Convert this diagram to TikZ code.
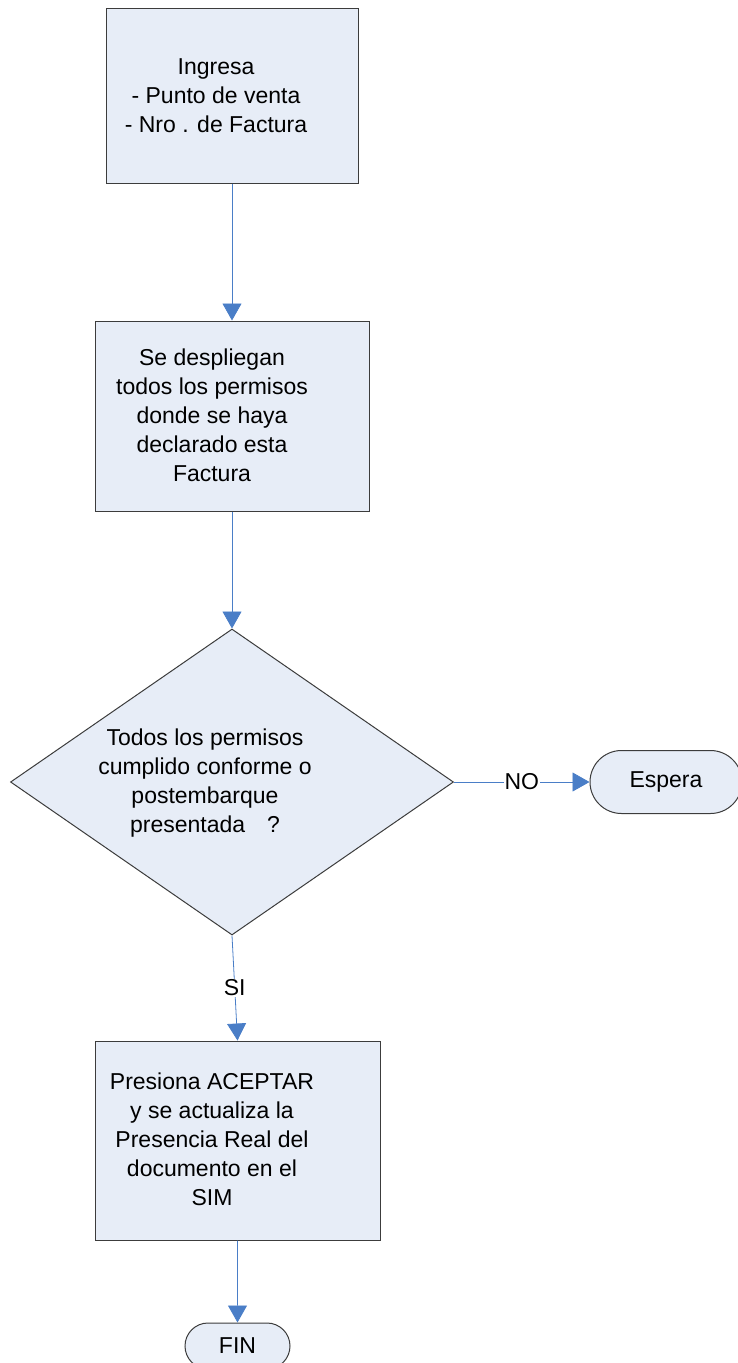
\documentclass[tikz,border=0pt]{standalone}
\usepackage{fontspec}
\setmainfont{Liberation Sans}
\usetikzlibrary{shapes.geometric, shapes.misc, arrows.meta}
\definecolor{cajafondo}{HTML}{E7EDF7}
\definecolor{flecha}{HTML}{4A7EC7}
\definecolor{borde}{HTML}{3C3C3C}

\begin{document}
\begin{tikzpicture}[x=1pt, y=-1pt,
  caja/.style={draw=borde, fill=cajafondo, line width=1pt, inner sep=0pt},
  terminal/.style={caja, rounded rectangle, font=\fontsize{23}{29}\selectfont},
  texto/.style={align=center, inner sep=1pt, font=\fontsize{23}{29}\selectfont},
  flujo/.style={draw=flecha, line width=0.8pt, -{Triangle[width=19pt,length=17pt]}}]
  \useasboundingbox (0,0) rectangle (738,1363);
  % cajas
  \node[caja, minimum width=252pt, minimum height=175pt] (ingresa) at (232,95.5) {};
  \node[caja, minimum width=274pt, minimum height=190pt] (despliegan) at (232,416) {};
  \node[caja, diamond, aspect=1.45, minimum width=443pt, minimum height=306pt] (pregunta) at (232,782) {};
  \node[caja, minimum width=285pt, minimum height=199pt] (presiona) at (237.5,1140.5) {};
  \node[terminal, minimum width=152pt, minimum height=63pt] (espera) at (666,782) {Espera};
  \node[terminal, minimum width=105pt, minimum height=46pt] (fin) at (237.5,1346) {FIN};
  % textos
  \node[texto] (ingresaT) at (216,96) {Ingresa\\- Punto de venta\\- Nro . de Factura};
  \node[texto] (desplieganT) at (212,415) {Se despliegan\\todos los permisos\\donde se haya\\declarado esta\\Factura};
  \node[texto] (preguntaT) at (205,783) {Todos los permisos\\cumplido conforme o\\postembarque\\presentada\hspace{22pt}?};
  \node[texto] (presionaT) at (212,1139) {Presiona ACEPTAR\\y se actualiza la\\Presencia Real del\\documento en el\\SIM};
  % flechas
  \draw[flujo] (ingresa) -- (despliegan);
  \draw[flujo] (despliegan) -- (pregunta);
  \draw[flujo] (pregunta.east) -- node[texto, fill=white] (no) {NO} (espera.west);
  \draw[flujo] (pregunta.south) -- node[texto, fill=white] (si) {SI} (presiona.north);
  \draw[flujo] (presiona) -- (fin);
\end{tikzpicture}
\end{document}
